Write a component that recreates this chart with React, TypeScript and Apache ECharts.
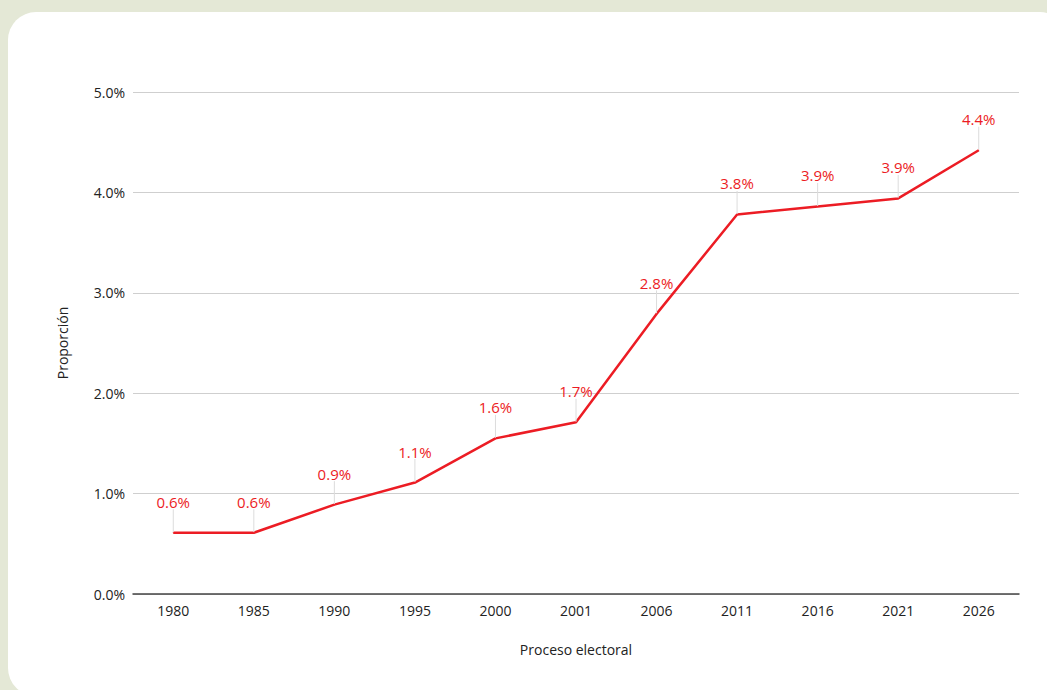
import React, { useEffect, useRef } from "react";
import * as echarts from "echarts";

const categories = ["1980", "1985", "1990", "1995", "2000", "2001", "2006", "2011", "2016", "2021", "2026"];
const values = [0.61, 0.61, 0.89, 1.11, 1.55, 1.71, 2.79, 3.78, 3.86, 3.94, 4.42];
const yTicks = [0, 1, 2, 3, 4, 5];

export default function App() {
  const ref = useRef<HTMLDivElement>(null);
  useEffect(() => {
    if (!ref.current) return;
    const chart = echarts.init(ref.current, null, { renderer: "svg" });
    chart.setOption({
      animation: false,
      textStyle: { fontFamily: "Open Sans" },
      grid: { left: 133, right: 28, top: 92, bottom: 96 },
      xAxis: {
        type: "category",
        data: categories,
        boundaryGap: true,
        axisLine: { lineStyle: { color: "#444", width: 1.5 } },
        axisTick: { show: false },
        axisLabel: { color: "#222", fontSize: 14, margin: 9, fontFamily: "Open Sans" },
        name: "Proceso electoral",
        nameLocation: "middle",
        nameGap: 48,
        nameTextStyle: { color: "#222", fontSize: 14, fontFamily: "Open Sans" },
      },
      yAxis: {
        type: "value",
        min: yTicks[0],
        max: yTicks[yTicks.length - 1],
        interval: 1,
        axisLine: { show: false },
        axisTick: { show: false },
        splitLine: { lineStyle: { color: "#cfcfcf", width: 1 } },
        axisLabel: {
          color: "#222",
          fontSize: 14,
          margin: 8,
          fontFamily: "Open Sans",
          formatter: (v: number) => v.toFixed(1) + "%",
        },
        name: "Proporción",
        nameLocation: "middle",
        nameGap: 64,
        nameTextStyle: { color: "#222", fontSize: 14, fontFamily: "Open Sans" },
      },
      series: [
        {
          type: "line",
          data: values,
          symbol: "circle",
          symbolSize: 1,
          showSymbol: true,
          lineStyle: { color: "#ec1c24", width: 2.5 },
          itemStyle: { color: "#ec1c24" },
          label: {
            show: true,
            position: "top",
            distance: 5,
            color: "#ec1c24",
            fontSize: 15,
            fontFamily: "Open Sans",
            formatter: (p: any) => Number(p.value).toFixed(1) + "%",
          },
          labelLayout: { dy: -18 },
          labelLine: { show: true, lineStyle: { color: "#dcdcdc", width: 1 } },
        },
      ],
    });
    return () => chart.dispose();
  }, []);
  return (
    <div style={{ position: "fixed", left: 0, top: 0, width: 1047, height: 690, background: "#e4e8d6", overflow: "hidden" }}>
      <div style={{ position: "absolute", left: 8, top: 12, width: 1060, height: 684, background: "#fff", borderRadius: 28 }} />
      <div ref={ref} style={{ position: "absolute", left: 0, top: 0, width: 1047, height: 690 }} />
    </div>
  );
}
